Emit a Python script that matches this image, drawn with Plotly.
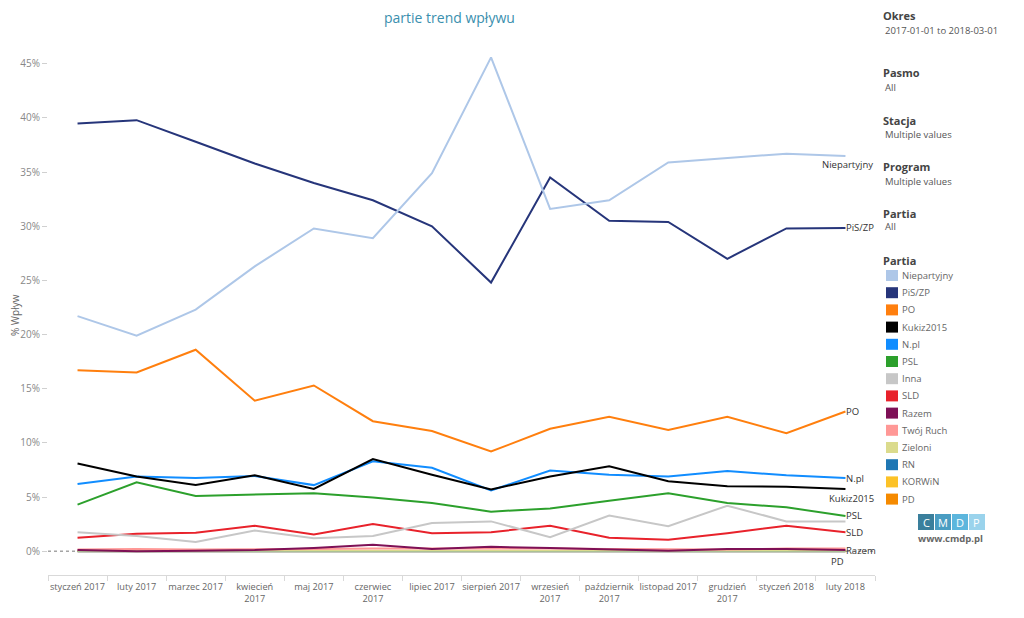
import plotly.graph_objects as go

# ---------------- data ----------------
months = ["styczeń 2017", "luty 2017", "marzec 2017", "kwiecień 2017", "maj 2017",
          "czerwiec 2017", "lipiec 2017", "sierpień 2017", "wrzesień 2017",
          "październik 2017", "listopad 2017", "grudzień 2017", "styczeń 2018", "luty 2018"]
tick_labels = ["styczeń 2017", "luty 2017", "marzec 2017", "kwiecień<br>2017", "maj 2017",
               "czerwiec<br>2017", "lipiec 2017", "sierpień 2017", "wrzesień<br>2017",
               "październik<br>2017", "listopad 2017", "grudzień<br>2017", "styczeń 2018", "luty 2018"]

y_ticks = [0, 5, 10, 15, 20, 25, 30, 35, 40, 45]
y_tick_labels = ["0%", "5%", "10%", "15%", "20%", "25%", "30%", "35%", "40%", "45%"]

parties = ["Niepartyjny", "PiS/ZP", "PO", "Kukiz2015", "N.pl", "PSL", "Inna", "SLD",
           "Razem", "Twój Ruch", "Zieloni", "RN", "KORWiN", "PD"]

niepartyjny = [21.7, 19.9, 22.3, 26.3, 29.8, 28.9, 34.9, 45.6, 31.6, 32.4, 35.9, 36.3, 36.7, 36.5]
pis_zp      = [39.5, 39.8, 37.8, 35.8, 34.0, 32.4, 30.0, 24.8, 34.5, 30.5, 30.4, 27.0, 29.8, 29.85]
po          = [16.7, 16.5, 18.6, 13.9, 15.3, 12.0, 11.1, 9.2, 11.3, 12.4, 11.2, 12.4, 10.9, 12.9]
kukiz2015   = [8.1, 6.9, 6.1, 7.0, 5.75, 8.5, 7.05, 5.7, 6.9, 7.85, 6.45, 6.0, 5.95, 5.75]
npl         = [6.2, 6.9, 6.75, 6.95, 6.1, 8.3, 7.7, 5.6, 7.45, 7.05, 6.9, 7.4, 7.0, 6.75]
psl         = [4.3, 6.35, 5.1, 5.2, 5.35, 4.95, 4.45, 3.65, 3.95, 4.65, 5.35, 4.45, 4.05, 3.25]
inna        = [1.75, 1.4, 0.85, 1.9, 1.2, 1.4, 2.6, 2.75, 1.3, 3.3, 2.3, 4.2, 2.75, 2.75]
sld         = [1.25, 1.6, 1.7, 2.35, 1.55, 2.5, 1.65, 1.75, 2.35, 1.25, 1.05, 1.65, 2.35, 1.75]
razem       = [0.1, 0.0, 0.05, 0.1, 0.3, 0.6, 0.2, 0.4, 0.3, 0.2, 0.05, 0.2, 0.2, 0.1]
twoj_ruch   = [0.15, 0.2, 0.15, 0.15, 0.2, 0.25, 0.25, 0.3, 0.25, 0.2, 0.15, 0.15, 0.25, 0.25]
zieloni     = [0.05, 0.05, 0.1, 0.1, 0.1, 0.05, 0.05, 0.05, 0.05, 0.05, 0.05, 0.05, 0.05, 0.05]
rn          = [0.0, 0.0, 0.0, 0.0, 0.0, 0.0, 0.0, 0.0, 0.0, 0.0, 0.0, 0.0, 0.0, 0.0]
korwin      = [0.02, 0.02, 0.02, 0.02, 0.02, 0.02, 0.02, 0.02, 0.02, 0.02, 0.02, 0.02, 0.02, 0.02]
pd_party    = [0.0, 0.0, 0.0, 0.0, 0.0, 0.0, 0.0, 0.0, 0.0, 0.0, 0.0, 0.0, 0.0, 0.0]

series = [niepartyjny, pis_zp, po, kukiz2015, npl, psl, inna, sld,
          razem, twoj_ruch, zieloni, rn, korwin, pd_party]

colors = ["#aec7e8", "#26357a", "#ff7f0e", "#000000", "#118dff", "#2ca02c", "#c7c7c7",
          "#e8222b", "#7e1056", "#ff9896", "#dbdb8d", "#1f77b4", "#fcc227", "#f58a00"]

# end-of-line label placement: (xanchor, yanchor, xshift, yshift)
end_labels = {"Niepartyjny": ("right", "top", 29, -1),
              "PiS/ZP": ("left", "middle", 0, 0),
              "PO": ("left", "middle", 0, 0),
              "Kukiz2015": ("right", "top", 30, -2),
              "N.pl": ("left", "middle", 0, 0),
              "PSL": ("left", "middle", 0, 0),
              "SLD": ("left", "middle", 0, 0),
              "Razem": ("left", "middle", 0, 0),
              "PD": ("right", "top", 0, -3)}

filters = [("Okres", "2017-01-01 to 2018-03-01"), ("Pasmo", "All"),
           ("Stacja", "Multiple values"), ("Program", "Multiple values"), ("Partia", "All")]

# ---------------- layout geometry (reference pixels) ----------------
OFF = 8                      # page body margin in the browser
W, H = 1024 - 2 * OFF, 618 - 2 * OFF
L, R, T, B = 48 - OFF, 1024 - 875 - OFF, 40 - OFF, 618 - 575 - OFF
pw, ph = W - L - R, H - T - B
def px(x):
    return (x - OFF - L) / pw
def py(y):
    return (H - B - (y - OFF)) / ph

FONT = "Open Sans"

fig = go.Figure()

for name, vals, col in reversed(list(zip(parties, series, colors))):
    fig.add_trace(go.Scatter(
        x=months, y=vals, name=name, mode="lines",
        line=dict(color=col, width=2),
        cliponaxis=False, showlegend=False,
    ))

shapes = [dict(type="line", xref="paper", x0=0, x1=1, yref="y", y0=0, y1=0,
               line=dict(color="#777777", width=1, dash="dot"), layer="below")]
annotations = []

# end labels anchored to last data point
for name, vals in zip(parties, series):
    if name in end_labels:
        xa, ya, xs, ys = end_labels[name]
        annotations.append(dict(text=name, x=months[-1], y=vals[-1], xref="x", yref="y",
                                showarrow=False, xanchor=xa, yanchor=ya, xshift=xs, yshift=ys,
                                borderpad=0,
                                font=dict(family=FONT, size=9.5, color="#333333")))

# title
annotations.append(dict(text="partie trend wpływu", x=px(449), y=py(18), xref="paper", yref="paper",
                        showarrow=False, xanchor="center", yanchor="middle",
                        font=dict(family=FONT, size=14, color="#3a8fae")))
# y axis title
annotations.append(dict(text="% Wpływ", x=px(15), y=py(315), xref="paper", yref="paper",
                        showarrow=False, textangle=-90, xanchor="center", yanchor="middle",
                        font=dict(family=FONT, size=10, color="#666666")))

# filter panel
filter_y = [16, 73, 120, 167, 213]
for (k, v), y0 in zip(filters, filter_y):
    annotations.append(dict(text="<b>%s</b>" % k, x=px(881), y=py(y0), xref="paper", yref="paper",
                            showarrow=False, xanchor="left", yanchor="middle",
                            font=dict(family=FONT, size=11, color="#444444")))
    annotations.append(dict(text=v, x=px(883), y=py(y0 + 14), xref="paper", yref="paper",
                            showarrow=False, xanchor="left", yanchor="middle",
                            font=dict(family=FONT, size=9.5, color="#555555")))

# legend
annotations.append(dict(text="<b>Partia</b>", x=px(881), y=py(261), xref="paper", yref="paper",
                        showarrow=False, xanchor="left", yanchor="middle",
                        font=dict(family=FONT, size=11, color="#444444")))
for i, (name, col) in enumerate(zip(parties, colors)):
    cy = 275.5 + i * 17.2
    shapes.append(dict(type="rect", xref="paper", yref="paper",
                       x0=px(886), x1=px(898), y0=py(cy + 5.5), y1=py(cy - 5.5),
                       fillcolor=col, line=dict(width=0)))
    annotations.append(dict(text=name, x=px(900), y=py(cy), xref="paper", yref="paper",
                            showarrow=False, xanchor="left", yanchor="middle",
                            font=dict(family=FONT, size=9.5, color="#666666")))

# logo
logo_letters = ["C", "M", "D", "P"]
logo_colors = ["#3a7f9c", "#4a9dc2", "#5cb6dd", "#9ad3ec"]
for i, (ch, col) in enumerate(zip(logo_letters, logo_colors)):
    x0 = 918 + i * 17
    shapes.append(dict(type="rect", xref="paper", yref="paper",
                       x0=px(x0), x1=px(x0 + 16), y0=py(530), y1=py(514),
                       fillcolor=col, line=dict(width=0)))
    annotations.append(dict(text=ch, x=px(x0 + 8), y=py(522), xref="paper", yref="paper",
                            showarrow=False, xanchor="center", yanchor="middle",
                            font=dict(family=FONT, size=11, color="white")))
annotations.append(dict(text="<b>www.cmdp.pl</b>", x=px(951), y=py(538), xref="paper", yref="paper",
                        showarrow=False, xanchor="center", yanchor="middle",
                        font=dict(family=FONT, size=9.5, color="#666666")))

fig.update_layout(
    width=W, height=H,
    margin=dict(l=L, r=R, t=T, b=B, autoexpand=False),
    paper_bgcolor="white", plot_bgcolor="white",
    showlegend=False,
    shapes=shapes, annotations=annotations,
    font=dict(family=FONT),
    xaxis=dict(type="category", categoryorder="array", categoryarray=months,
               tickmode="array", tickvals=months, ticktext=tick_labels, tickangle=0,
               range=[-0.5, len(months) - 0.5],
               showgrid=False, zeroline=False, showline=True, linecolor="#d9d9d9",
               ticks="outside", tickson="boundaries", ticklen=5, tickcolor="#d9d9d9",
               ticklabelstandoff=3,
               tickfont=dict(family=FONT, size=9.2, color="#666666")),
    yaxis=dict(range=[-2.2, 47.2], tickmode="array", tickvals=y_ticks, ticktext=y_tick_labels,
               showgrid=False, zeroline=False, showline=False,
               ticks="outside", ticklen=5, tickcolor="#d0d0d0",
               tickfont=dict(family=FONT, size=10, color="#888888")),
)

fig.write_html("out.html")
